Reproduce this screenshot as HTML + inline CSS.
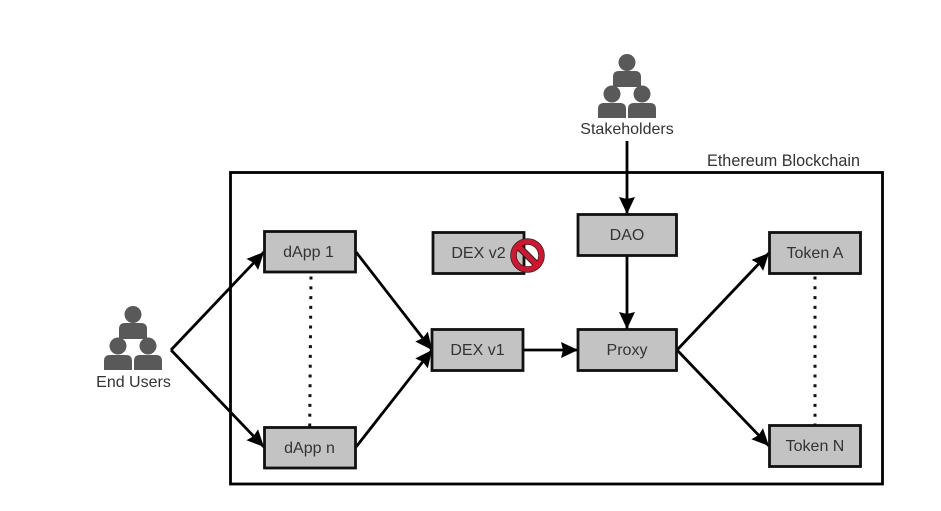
<!DOCTYPE html>
<html><head><meta charset="utf-8"><style>
html,body{margin:0;padding:0;background:#fff}
svg{display:block}
text{font-family:"Liberation Sans",Arial,sans-serif;font-size:16px;fill:#333;text-anchor:middle}
.b{fill:#c3c3c3;stroke:#111;stroke-width:2.8}
.l{stroke:#000;stroke-width:2.8;fill:none}
.d{stroke:#111;stroke-width:3;fill:none;stroke-dasharray:3 6.8}
.p{fill:#595959}
</style></head><body>
<svg width="941" height="511" viewBox="0 0 941 511" xmlns="http://www.w3.org/2000/svg">
<defs>
<marker id="a" markerUnits="userSpaceOnUse" markerWidth="18" markerHeight="18" refX="17" refY="9" orient="auto"><path d="M0 1L17 9L0 17L2 9Z" fill="#000"/></marker>
<g id="people">
<circle cx="14" cy="8.500" r="8.500" class="p"/><path d="M0 33V23Q0 17 6 17H22Q28 17 28 23V33Z" class="p"/>
<circle cx="-1" cy="40" r="8.500" class="p"/><path d="M-15 64V55Q-15 49 -9 49H7Q13 49 13 55V64Z" class="p"/>
<circle cx="29" cy="40" r="8.500" class="p"/><path d="M15 64V55Q15 49 21 49H37Q43 49 43 55V64Z" class="p"/>
</g>
</defs>
<rect x="230.500" y="172.500" width="652" height="311.500" fill="none" stroke="#000" stroke-width="2.800"/>
<text x="783.500" y="166" style="font-size:16.200px">Ethereum Blockchain</text>

<use href="#people" x="119" y="306"/>
<text x="133.500" y="387">End Users</text>
<use href="#people" x="613" y="54"/>
<text x="627" y="134">Stakeholders</text>

<path class="d" d="M311 276.500L309.700 427"/>
<path class="d" d="M815 276.500V425"/>

<path class="l" d="M171 350L264 252" marker-end="url(#a)"/>
<path class="l" d="M171 350L264 447" marker-end="url(#a)"/>
<path class="l" d="M356 252L432 350" marker-end="url(#a)"/>
<path class="l" d="M356 447L432 350" marker-end="url(#a)"/>
<path class="l" d="M523 350H578" marker-end="url(#a)"/>
<path class="l" d="M627 141V214" marker-end="url(#a)"/>
<path class="l" d="M627 256V329" marker-end="url(#a)"/>
<path class="l" d="M677 350L769 253" marker-end="url(#a)"/>
<path class="l" d="M677 350L769 446" marker-end="url(#a)"/>

<rect class="b" x="264.500" y="231.500" width="91" height="40.500"/><text x="308.500" y="257">dApp 1</text>
<rect class="b" x="264.500" y="427.500" width="91" height="40.500"/><text x="309.500" y="453">dApp n</text>
<rect class="b" x="433" y="232.500" width="91" height="41"/><text x="478.500" y="258">DEX v2</text>
<rect class="b" x="432" y="329.500" width="91" height="41"/><text x="477.500" y="355">DEX v1</text>
<rect class="b" x="578" y="329.500" width="98.500" height="41"/><text x="627" y="355">Proxy</text>
<rect class="b" x="578" y="214.500" width="98.500" height="41"/><text x="627" y="240">DAO</text>
<rect class="b" x="769.500" y="232.500" width="91" height="41"/><text x="815" y="258">Token A</text>
<rect class="b" x="769.500" y="425.500" width="91" height="41"/><text x="815" y="451">Token N</text>

<path d="M519.500 247.500L535.500 263.500" stroke="#222" stroke-width="7"/>
<circle cx="527.500" cy="255.500" r="14" fill="none" stroke="#222" stroke-width="6.500"/>
<circle cx="527.500" cy="255.500" r="14" fill="none" stroke="#d8142c" stroke-width="5"/>
<path d="M518.500 246.500L536.500 264.500" stroke="#d8142c" stroke-width="5"/>
</svg>
</body></html>
